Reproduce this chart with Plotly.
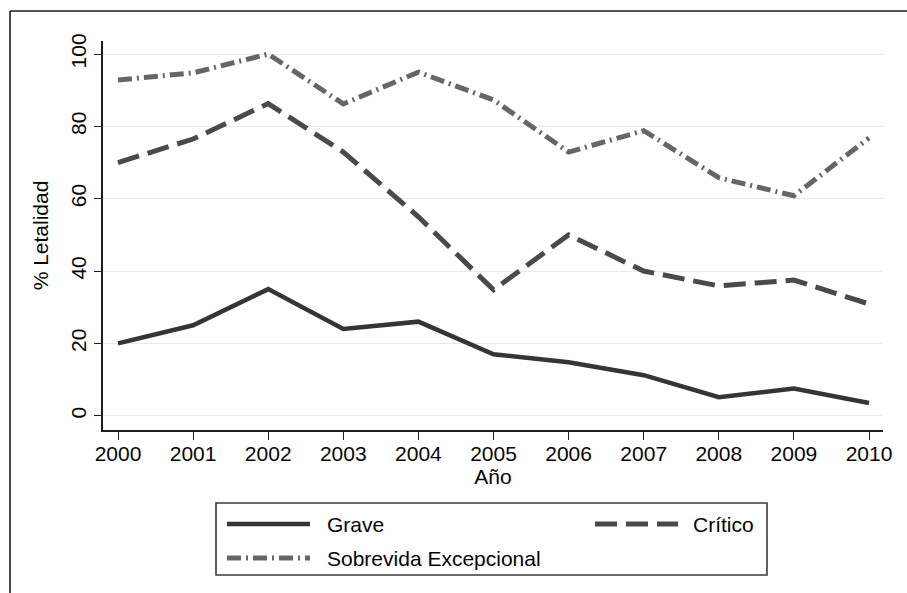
import plotly.graph_objects as go

years = [2000, 2001, 2002, 2003, 2004, 2005, 2006, 2007, 2008, 2009, 2010]
grave = [20, 25, 35, 24, 26, 17, 14.8, 11.2, 5.1, 7.5, 3.5]
critico = [70, 76.5, 86.3, 72.9, 55, 34.8, 50, 40, 35.9, 37.5, 30.9]
sobrevida = [92.8, 94.8, 100, 86.2, 95, 87.3, 72.9, 78.8, 65.8, 60.8, 76.8]
y_ticks = [0, 20, 40, 60, 80, 100]
series_names = ["Grave", "Crítico", "Sobrevida Excepcional"]

FONT = "Liberation Sans, Arial, Helvetica, sans-serif"
FS = 21
TXT = "#050505"
c_grave, c_crit, c_sob = "#353535", "#4a4a4a", "#666666"
d_crit = "22px,9px"
d_sob = "14px,5px,2px,5px"

fig = go.Figure()
fig.add_trace(go.Scatter(x=years, y=grave, mode="lines", name=series_names[0],
                         line=dict(color=c_grave, width=4.5), showlegend=False))
fig.add_trace(go.Scatter(x=years, y=critico, mode="lines", name=series_names[1],
                         line=dict(color=c_crit, width=5, dash=d_crit), showlegend=False))
fig.add_trace(go.Scatter(x=years, y=sobrevida, mode="lines", name=series_names[2],
                         line=dict(color=c_sob, width=5, dash=d_sob), showlegend=False))

W, H = 907, 593
L, R, T, B = 103, 883, 41, 430
def px(x):
    return (x - L) / (R - L)
def py(y):
    return (B - y) / (B - T)

shapes = []
# outer frame (top and left only visible)
shapes.append(dict(type="line", xref="paper", yref="paper", x0=px(10), x1=px(910),
                   y0=py(11), y1=py(11), line=dict(color="#1e1e1e", width=1.6)))
shapes.append(dict(type="line", xref="paper", yref="paper", x0=px(10), x1=px(10),
                   y0=py(11), y1=py(600), line=dict(color="#1e1e1e", width=1.6)))
# legend box
shapes.append(dict(type="rect", xref="paper", yref="paper", x0=px(216), x1=px(767),
                   y0=py(503), y1=py(575), line=dict(color="#3a3a3a", width=1.6),
                   fillcolor="rgba(0,0,0,0)"))
# legend samples
leg = [(227, 310, 524, c_grave, "solid", 4.5, 325, series_names[0]),
       (595, 678, 524, c_crit, d_crit, 5, 691, series_names[1]),
       (227, 310, 558, c_sob, d_sob, 5, 325, series_names[2])]
annotations = []
for x0, x1, yy, col, dsh, w, tx, name in leg:
    shapes.append(dict(type="line", xref="paper", yref="paper", x0=px(x0), x1=px(x1),
                       y0=py(yy), y1=py(yy), line=dict(color=col, width=w, dash=dsh)))
    annotations.append(dict(xref="paper", yref="paper", x=px(tx), y=py(yy), text=name,
                            showarrow=False, xanchor="left", yanchor="middle",
                            font=dict(family=FONT, size=FS, color=TXT)))

fig.update_layout(
    width=W, height=H,
    margin=dict(l=L, r=W - R, t=T, b=H - B, pad=0),
    paper_bgcolor="white", plot_bgcolor="white",
    font=dict(family=FONT, size=FS, color=TXT),
    shapes=shapes, annotations=annotations,
    showlegend=False,
)
fig.update_xaxes(
    range=[2000 - 15 / 75.1, 2010 + 14 / 75.1],
    tickmode="array", tickvals=years, ticktext=[str(y) for y in years],
    showgrid=False, zeroline=False,
    showline=True, linecolor="#1e1e1e", linewidth=1.6,
    ticks="outside", ticklen=8, tickwidth=1.4, tickcolor="#1e1e1e",
    ticklabelstandoff=-4,
    tickfont=dict(family=FONT, size=FS, color=TXT),
    title=dict(text="Año", font=dict(family=FONT, size=FS, color=TXT), standoff=2),
)
fig.update_yaxes(
    range=[-3.95, 103.6],
    tickmode="array", tickvals=y_ticks, ticktext=[str(v) for v in y_ticks],
    tickangle=-90,
    showgrid=True, gridcolor="#e9e9e9", gridwidth=1.2, zeroline=False,
    showline=True, linecolor="#1e1e1e", linewidth=1.6,
    ticks="outside", ticklen=7, tickwidth=1.4, tickcolor="#1e1e1e",
    tickfont=dict(family=FONT, size=FS, color=TXT),
    title=dict(text="% Letalidad", font=dict(family=FONT, size=FS, color=TXT), standoff=12),
)

fig.write_html("out.html", config={"displayModeBar": False},
               post_script="document.body.style.margin='0';")
